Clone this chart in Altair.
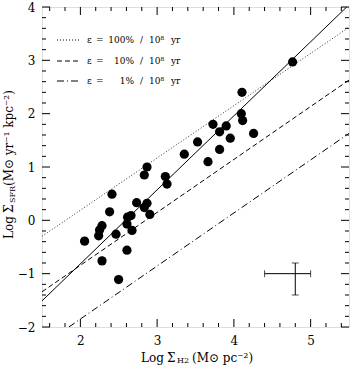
import altair as alt
import pandas as pd

# ---- data ----
log_h2 = [2.055, 2.238, 2.250, 2.282, 2.282, 2.381, 2.412, 2.464, 2.498, 2.607,
          2.607, 2.615, 2.660, 2.673, 2.733, 2.833, 2.868, 2.905, 2.833, 2.868,
          3.107, 3.129, 3.354, 3.527, 3.663, 3.728, 3.814, 3.814, 3.900, 3.953,
          4.097, 4.106, 4.114, 4.257, 4.765]
log_sfr = [-0.39, -0.29, -0.18, -0.10, -0.76, 0.16, 0.49, -0.26, -1.11, -0.56,
           -0.07, 0.06, 0.09, -0.19, 0.33, 0.24, 0.32, 0.11, 0.85, 1.00,
           0.82, 0.68, 1.24, 1.47, 1.10, 1.80, 1.66, 1.33, 1.77, 1.54,
           2.00, 2.40, 1.87, 1.63, 2.97]

# model lines (end points)
eff100_x = [1.5, 5.5]
eff100_y = [-0.30, 3.62]
eff10_x = [1.5, 5.5]
eff10_y = [-1.34, 2.63]
eff1_x = [1.85, 5.5]
eff1_y = [-2.0, 1.63]
fit_x = [1.5, 5.47]
fit_y = [-1.51, 4.0]

# typical error bar
err_x, err_x_lo, err_x_hi = [4.80], [4.40], [5.00]
err_y, err_y_lo, err_y_hi = [-1.00], [-1.40], [-0.80]

x_major = [2, 3, 4, 5]
x_minor = [1.6, 1.8, 2.2, 2.4, 2.6, 2.8, 3.2, 3.4, 3.6, 3.8, 4.2, 4.4, 4.6, 4.8, 5.2, 5.4]
y_major = [-2, -1, 0, 1, 2, 3, 4]
y_minor = [-1.8, -1.6, -1.4, -1.2, -0.8, -0.6, -0.4, -0.2, 0.2, 0.4, 0.6, 0.8,
           1.2, 1.4, 1.6, 1.8, 2.2, 2.4, 2.6, 2.8, 3.2, 3.4, 3.6, 3.8]

legend_pct = ["100%", "10%", "1%"]

W, H = 307, 320
L, T = 42, 7
FONT = "DejaVu Serif"

xs = alt.Scale(domain=[1.5, 5.5], nice=False, zero=False)
ys = alt.Scale(domain=[-2, 4], nice=False, zero=False)

pts = pd.DataFrame({"x": log_h2, "y": log_sfr})

base_axes = alt.Chart(pts).mark_point(opacity=0).encode(
    x=alt.X("x:Q", scale=xs, axis=alt.Axis(values=x_major, ticks=False, domain=False, grid=False,
                                            title=None, labelFont=FONT, labelFontSize=12,
                                            labelPadding=8, labelColor="black", format="d")),
    y=alt.Y("y:Q", scale=ys, axis=alt.Axis(values=y_major, ticks=False, domain=False, grid=False,
                                            title=None, labelFont=FONT, labelFontSize=12,
                                            labelPadding=7, labelColor="black", format="d")),
)

points = alt.Chart(pts).mark_circle(size=85, color="black", opacity=1).encode(
    x=alt.X("x:Q", scale=xs), y=alt.Y("y:Q", scale=ys))


def line(xv, yv, dash, color="black"):
    df = pd.DataFrame({"x": xv, "y": yv})
    mk = dict(color=color, strokeWidth=1, clip=True)
    if dash:
        mk["strokeDash"] = dash
    return alt.Chart(df).mark_line(**mk).encode(
        x=alt.X("x:Q", scale=xs), y=alt.Y("y:Q", scale=ys))


l100 = line(eff100_x, eff100_y, [1, 2], "#333333")
l10 = line(eff10_x, eff10_y, [5, 3])
l1 = line(eff1_x, eff1_y, [7, 3, 1, 3])
lfit = line(fit_x, fit_y, None)

err = pd.DataFrame({"x": err_x, "xlo": err_x_lo, "xhi": err_x_hi,
                    "y": err_y, "ylo": err_y_lo, "yhi": err_y_hi})
eh = alt.Chart(err).mark_rule(color="black", strokeWidth=1).encode(
    x=alt.X("xlo:Q", scale=xs), x2="xhi:Q", y=alt.Y("y:Q", scale=ys))
ev = alt.Chart(err).mark_rule(color="black", strokeWidth=1).encode(
    y=alt.Y("ylo:Q", scale=ys), y2="yhi:Q", x=alt.X("x:Q", scale=xs))
cap_l = alt.Chart(err).mark_tick(color="black", orient="vertical", size=7, thickness=1).encode(
    x=alt.X("xlo:Q", scale=xs), y=alt.Y("y:Q", scale=ys))
cap_r = alt.Chart(err).mark_tick(color="black", orient="vertical", size=7, thickness=1).encode(
    x=alt.X("xhi:Q", scale=xs), y=alt.Y("y:Q", scale=ys))
cap_t = alt.Chart(err).mark_tick(color="black", orient="horizontal", size=7, thickness=1).encode(
    x=alt.X("x:Q", scale=xs), y=alt.Y("yhi:Q", scale=ys))
cap_b = alt.Chart(err).mark_tick(color="black", orient="horizontal", size=7, thickness=1).encode(
    x=alt.X("x:Q", scale=xs), y=alt.Y("ylo:Q", scale=ys))

# inward ticks on all four sides
tick_layers = []
for vals, ln in ((x_major, 8), (x_minor, 4)):
    d = pd.DataFrame({"v": vals})
    tick_layers.append(alt.Chart(d).mark_rule(color="black", strokeWidth=1).encode(
        x=alt.X("v:Q", scale=xs), y=alt.value(H), y2=alt.value(H - ln)))
    tick_layers.append(alt.Chart(d).mark_rule(color="black", strokeWidth=1).encode(
        x=alt.X("v:Q", scale=xs), y=alt.value(0), y2=alt.value(ln)))
for vals, ln in ((y_major, 8), (y_minor, 4)):
    d = pd.DataFrame({"v": vals})
    tick_layers.append(alt.Chart(d).mark_rule(color="black", strokeWidth=1).encode(
        y=alt.Y("v:Q", scale=ys), x=alt.value(0), x2=alt.value(ln)))
    tick_layers.append(alt.Chart(d).mark_rule(color="black", strokeWidth=1).encode(
        y=alt.Y("v:Q", scale=ys), x=alt.value(W), x2=alt.value(W - ln)))


def txt(s, x_abs, y_abs, size=10, align="left", angle=None, field=None, df=None):
    mk = dict(font=FONT, fontSize=size, align=align, baseline="middle", color="black")
    if angle is not None:
        mk["angle"] = angle
    d = df if df is not None else pd.DataFrame({"a": [0]})
    enc = dict(x=alt.value(x_abs - L), y=alt.value(y_abs - T))
    enc["text"] = alt.Text(field + ":N") if field else alt.value(s)
    return alt.Chart(d).mark_text(**mk).encode(**enc)


# legend
leg = []
dashes = [[1, 2], [5, 3], [7, 3, 1, 3]]
rows_y = [40, 61, 81]
for pct, dsh, ry in zip(legend_pct, dashes, rows_y):
    dd = pd.DataFrame({"t": [pct]})
    leg.append(alt.Chart(dd).mark_rule(color="black", strokeWidth=1, strokeDash=dsh).encode(
        x=alt.value(57 - L), x2=alt.value(80 - L), y=alt.value(ry - T)))
    leg.append(txt("ε", 87, ry, size=9))
    leg.append(txt("=", 96, ry, size=9))
    leg.append(txt(None, 134, ry, size=9, align="right", field="t", df=dd))
    leg.append(txt("/", 140, ry, size=9))
    leg.append(txt("10⁸", 149, ry, size=9))
    leg.append(txt("yr", 171, ry, size=9))

# axis titles
titles = [
    txt("Log", 141, 358, size=12),
    txt("Σ", 167, 358, size=12),
    txt("H2", 177, 361, size=8),
    txt("(M⊙ pc⁻²)", 192, 358, size=12),
    txt("Log", 9, 239, size=12, angle=270),
    txt("Σ", 9, 213, size=12, angle=270),
    txt("SFR", 13, 203, size=8, angle=270),
    txt("(M⊙ yr⁻¹ kpc⁻²)", 9, 186, size=12, angle=270),
]

chart = alt.layer(
    base_axes, l100, l10, l1, lfit, points, eh, ev, cap_l, cap_r, cap_t, cap_b,
    *tick_layers, *leg, *titles
).properties(
    width=W, height=H,
    autosize=alt.AutoSizeParams(type="none"),
    padding={"left": L, "top": T, "right": 4, "bottom": 42},
).configure_view(stroke="black", strokeWidth=1).configure(background="white")

chart.save("out.html", embed_options={"renderer": "svg", "actions": False})
